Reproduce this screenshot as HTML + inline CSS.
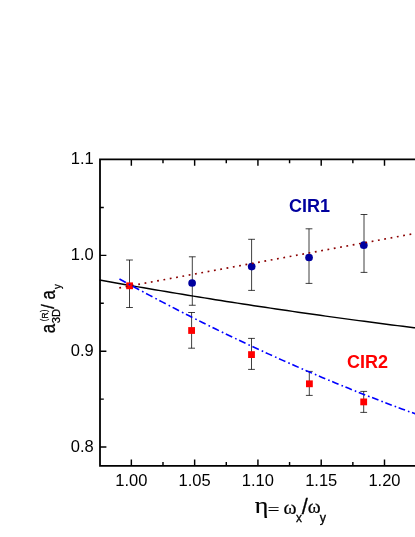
<!DOCTYPE html>
<html lang="en"><head><meta charset="utf-8"><title>a3D(R)/ay vs eta = omega_x/omega_y</title><style>
html,body{margin:0;padding:0;background:#fff;}
svg{display:block;will-change:transform;}
text{font-family:"Liberation Sans",sans-serif;fill:#000;}
.t{font-size:16.5px;}
.b{font-size:18px;font-weight:bold;}
</style></head><body>
<svg width="415" height="537" viewBox="0 0 415 537">
<rect width="415" height="537" fill="#fff"/>
<path d="M99.60,280.07 L105.12,281.06 L110.63,282.04 L116.15,283.02 L121.66,283.99 L127.18,284.95 L132.69,285.91 L138.21,286.87 L143.72,287.82 L149.24,288.76 L154.75,289.70 L160.27,290.63 L165.78,291.56 L171.30,292.48 L176.81,293.40 L182.33,294.31 L187.84,295.22 L193.36,296.12 L198.87,297.01 L204.39,297.90 L209.91,298.79 L215.42,299.66 L220.94,300.54 L226.45,301.41 L231.97,302.27 L237.48,303.13 L243.00,303.98 L248.51,304.82 L254.03,305.66 L259.54,306.50 L265.06,307.33 L270.57,308.15 L276.09,308.97 L281.60,309.79 L287.12,310.59 L292.63,311.40 L298.15,312.19 L303.66,312.99 L309.18,313.77 L314.69,314.55 L320.21,315.33 L325.73,316.10 L331.24,316.86 L336.76,317.62 L342.27,318.38 L347.79,319.13 L353.30,319.87 L358.82,320.61 L364.33,321.34 L369.85,322.07 L375.36,322.79 L380.88,323.50 L386.39,324.21 L391.91,324.92 L397.42,325.62 L402.94,326.31 L408.45,327.00 L413.97,327.69 L419.48,328.36 L425.00,329.04" fill="none" stroke="#000" stroke-width="1.45"/>
<path d="M129.50,260.00V307.50M126.10,260.00H132.90M126.10,307.50H132.90" fill="none" stroke="#000" stroke-width="0.75"/>
<path d="M191.60,312.50V348.20M188.20,312.50H195.00M188.20,348.20H195.00" fill="none" stroke="#000" stroke-width="0.75"/>
<path d="M251.50,338.40V369.40M248.10,338.40H254.90M248.10,369.40H254.90" fill="none" stroke="#000" stroke-width="0.75"/>
<path d="M309.30,371.40V395.40M305.90,371.40H312.70M305.90,395.40H312.70" fill="none" stroke="#000" stroke-width="0.75"/>
<path d="M363.70,391.40V412.40M360.30,391.40H367.10M360.30,412.40H367.10" fill="none" stroke="#000" stroke-width="0.75"/>
<path d="M192.30,256.80V305.25M188.90,256.80H195.70M188.90,305.25H195.70" fill="none" stroke="#000" stroke-width="0.75"/>
<path d="M251.60,239.30V290.40M248.20,239.30H255.00M248.20,290.40H255.00" fill="none" stroke="#000" stroke-width="0.75"/>
<path d="M309.00,228.80V283.40M305.60,228.80H312.40M305.60,283.40H312.40" fill="none" stroke="#000" stroke-width="0.75"/>
<path d="M364.00,214.50V272.40M360.60,214.50H367.40M360.60,272.40H367.40" fill="none" stroke="#000" stroke-width="0.75"/>
<rect x="126.20" y="282.40" width="6.8" height="6.8" fill="#ff0000"/>
<rect x="188.20" y="327.10" width="6.8" height="6.8" fill="#ff0000"/>
<rect x="248.10" y="351.20" width="6.8" height="6.8" fill="#ff0000"/>
<rect x="306.00" y="380.40" width="6.8" height="6.8" fill="#ff0000"/>
<rect x="360.30" y="398.50" width="6.8" height="6.8" fill="#ff0000"/>
<circle cx="192.10" cy="283.00" r="3.85" fill="#00009e"/>
<circle cx="251.70" cy="266.60" r="3.85" fill="#00009e"/>
<circle cx="309.05" cy="257.50" r="3.85" fill="#00009e"/>
<circle cx="363.80" cy="245.20" r="3.85" fill="#00009e"/>
<path d="M119.30,287.90 L425.00,231.61" fill="none" stroke="#8b0000" stroke-width="1.65" stroke-dasharray="1.8 4.614"/>
<path d="M119.45,279.00L122.65,280.76L125.85,282.52M128.75,284.10L130.25,284.91M132.75,286.27L135.94,288.00L139.15,289.73M142.05,291.28L143.55,292.09M146.04,293.42L149.24,295.12L152.44,296.82M155.34,298.36L156.84,299.15M159.34,300.46L162.54,302.14L165.74,303.81M168.64,305.31L170.14,306.09M172.63,307.38L175.83,309.03L179.03,310.68M181.93,312.16L183.43,312.92M185.93,314.19L189.12,315.82L192.33,317.43M195.23,318.89L196.73,319.64M199.22,320.89L202.42,322.48L205.62,324.07M208.52,325.51L210.02,326.25M212.51,327.47L215.71,329.04L218.91,330.60M221.81,332.01L223.31,332.74M225.81,333.94L229.01,335.48L232.21,337.02M235.11,338.40L236.61,339.11M239.11,340.30L242.31,341.81L245.51,343.32M248.41,344.68L249.91,345.38M252.40,346.54L255.60,348.03L258.80,349.51M261.70,350.84L263.20,351.53M265.69,352.67L268.89,354.13L272.09,355.58M275.00,356.89L276.50,357.57M278.99,358.69L282.19,360.12L285.39,361.54M288.29,362.83L289.79,363.49M292.29,364.59L295.49,365.99L298.69,367.39M301.59,368.65L303.09,369.30M305.58,370.38L308.78,371.75L311.98,373.12M314.88,374.36L316.38,374.99M318.88,376.05L322.07,377.40L325.27,378.74M328.18,379.95L329.68,380.58M332.17,381.61L335.37,382.93L338.57,384.25M341.47,385.43L342.97,386.04M345.46,387.06L348.66,388.35L351.86,389.64M354.76,390.80L356.26,391.40M358.76,392.39L361.96,393.66L365.16,394.92M368.06,396.05L369.56,396.64M372.06,397.61L375.25,398.85L378.45,400.08M381.36,401.20L382.86,401.77M385.35,402.72L388.55,403.93L391.75,405.14M394.65,406.22L396.15,406.78M398.64,407.71L401.84,408.90L405.04,410.07M407.94,411.14L409.44,411.68M411.94,412.59L415.14,413.75L418.34,414.90M421.24,415.94L422.74,416.47" fill="none" stroke="#0000ff" stroke-width="1.6"/>
<path d="M430,159.45H100.0V465.8H430" fill="none" stroke="#000" stroke-width="1.8" stroke-linejoin="miter"/>
<path d="M131.35,465.8v-6.4M131.35,159.45v6.4M162.99,465.8v-3.8M162.99,159.45v3.8M194.64,465.8v-6.4M194.64,159.45v6.4M226.28,465.8v-3.8M226.28,159.45v3.8M257.93,465.8v-6.4M257.93,159.45v6.4M289.57,465.8v-3.8M289.57,159.45v3.8M321.21,465.8v-6.4M321.21,159.45v6.4M352.86,465.8v-3.8M352.86,159.45v3.8M384.50,465.8v-6.4M384.50,159.45v6.4M416.14,465.8v-3.8M416.14,159.45v3.8M447.79,465.8v-6.4M447.79,159.45v6.4M100.0,447.04h6.4M100.0,399.12h3.8M100.0,351.20h6.4M100.0,303.28h3.8M100.0,255.36h6.4M100.0,207.44h3.8" fill="none" stroke="#000" stroke-width="1.45"/>
<text x="115.30" y="485.60" class="t" style="fill:#000">1.00</text>
<text x="178.58" y="485.60" class="t" style="fill:#000">1.05</text>
<text x="241.87" y="485.60" class="t" style="fill:#000">1.10</text>
<text x="305.16" y="485.60" class="t" style="fill:#000">1.15</text>
<text x="368.45" y="485.60" class="t" style="fill:#000">1.20</text>
<text x="70.86" y="451.64" class="t" style="fill:#000">0.8</text>
<text x="70.86" y="355.80" class="t" style="fill:#000">0.9</text>
<text x="70.86" y="259.96" class="t" style="fill:#000">1.0</text>
<text x="70.86" y="164.12" class="t" style="fill:#000">1.1</text>
<text x="288.90" y="212.00" class="b" style="fill:#00009e">CIR1</text>
<text x="346.90" y="367.60" class="b" style="fill:#ff0000">CIR2</text>
<text transform="matrix(0.2593 0 0 0.2222 254.64 513.32)" style="font-family:'Liberation Serif';font-weight:normal;font-size:100px;fill:#000;stroke:#000;stroke-width:0.96px">η</text>
<text transform="matrix(0.2063 0 0 0.1760 267.82 514.69)" style="font-family:'Liberation Serif';font-weight:normal;font-size:100px;fill:#000;stroke:#000;stroke-width:0.97px">=</text>
<text transform="matrix(0.1982 0 0 0.1839 283.38 513.57)" style="font-family:'Liberation Serif';font-weight:normal;font-size:100px;fill:#000;stroke:#000;stroke-width:1.26px">ω</text>
<text transform="matrix(0.1192 0 0 0.1230 296.07 521.65)" style="font-family:'Liberation Sans';font-weight:normal;font-size:100px;fill:#000;stroke:#000;stroke-width:2.44px">x</text>
<text transform="matrix(0.2178 0 0 0.2274 301.85 513.53)" style="font-family:'Liberation Sans';font-weight:normal;font-size:100px;fill:#000;stroke:#000;stroke-width:1.32px">/</text>
<text transform="matrix(0.1965 0 0 0.1797 307.78 513.47)" style="font-family:'Liberation Serif';font-weight:normal;font-size:100px;fill:#000;stroke:#000;stroke-width:1.27px">ω</text>
<text transform="matrix(0.1251 0 0 0.1284 319.82 521.93)" style="font-family:'Liberation Sans';font-weight:normal;font-size:100px;fill:#000;stroke:#000;stroke-width:2.34px">y</text>
<text transform="matrix(0 -0.1694 0.1971 0 54.91 333.22)" style="font-family:'Liberation Sans';font-weight:normal;font-size:100px;fill:#000;stroke:#000;stroke-width:1.52px">a</text>
<text transform="matrix(0 -0.1120 0.1059 0 60.00 323.13)" style="font-family:'Liberation Sans';font-weight:normal;font-size:100px;fill:#000;stroke:#000;stroke-width:2.68px">3D</text>
<text transform="matrix(0 -0.0717 0.0848 0 47.34 321.34)" style="font-family:'Liberation Sans';font-weight:normal;font-size:100px;fill:#000;stroke:#000;stroke-width:2.95px">(</text>
<text transform="matrix(0 -0.0842 0.0887 0 47.70 318.54)" style="font-family:'Liberation Sans';font-weight:normal;font-size:100px;fill:#000;stroke:#000;stroke-width:2.82px">R</text>
<text transform="matrix(0 -0.0717 0.0837 0 47.37 311.94)" style="font-family:'Liberation Sans';font-weight:normal;font-size:100px;fill:#000;stroke:#000;stroke-width:2.99px">)</text>
<text transform="matrix(0 -0.1656 0.1797 0 54.32 308.70)" style="font-family:'Liberation Sans';font-weight:normal;font-size:100px;fill:#000;stroke:#000;stroke-width:1.67px">/</text>
<text transform="matrix(0 -0.1674 0.1971 0 55.11 299.51)" style="font-family:'Liberation Sans';font-weight:normal;font-size:100px;fill:#000;stroke:#000;stroke-width:1.52px">a</text>
<text transform="matrix(0 -0.0969 0.1182 0 61.25 288.92)" style="font-family:'Liberation Sans';font-weight:normal;font-size:100px;fill:#000;stroke:#000;stroke-width:2.54px">y</text>
</svg></body></html>
